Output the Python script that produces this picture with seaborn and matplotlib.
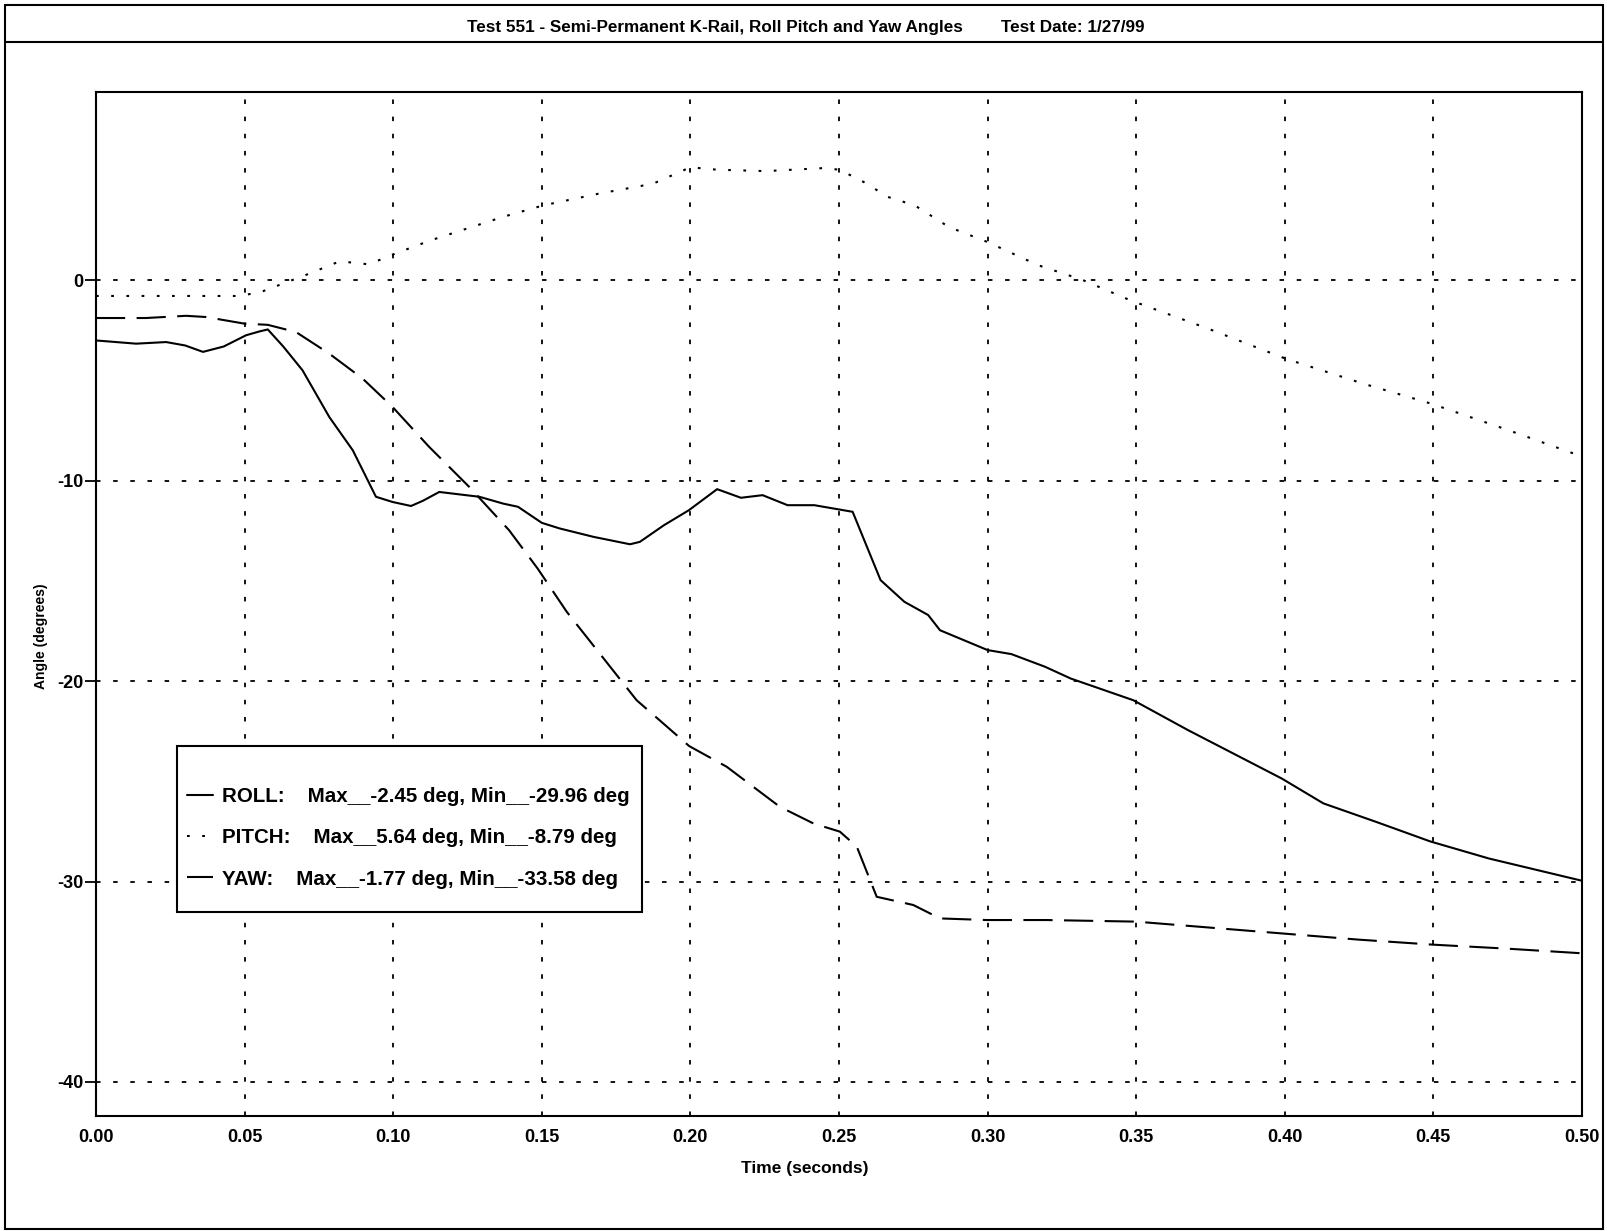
import pandas as pd
import seaborn as sns
import matplotlib.pyplot as plt
from matplotlib.lines import Line2D
from matplotlib.patches import Rectangle

# values
roll_t = [0.000, 0.0135, 0.0236, 0.030, 0.036, 0.043, 0.0505, 0.055, 0.0578, 0.063,
          0.0695, 0.0785, 0.0864, 0.0942, 0.0998, 0.106, 0.110, 0.1155, 0.129, 0.137,
          0.142, 0.150, 0.156, 0.1674, 0.1797, 0.183, 0.1911, 0.1995, 0.209, 0.217,
          0.2243, 0.2327, 0.2417, 0.2546, 0.264, 0.272, 0.280, 0.284, 0.300, 0.308,
          0.3193, 0.328, 0.349, 0.3674, 0.399, 0.413, 0.4307, 0.449, 0.4687, 0.500]
roll_deg = [-3.00, -3.16, -3.08, -3.25, -3.57, -3.30, -2.74, -2.55, -2.45, -3.30,
            -4.49, -6.82, -8.48, -10.80, -11.06, -11.26, -11.00, -10.56, -10.80, -11.14,
            -11.30, -12.10, -12.38, -12.80, -13.17, -13.05, -12.22, -11.47, -10.42, -10.85,
            -10.72, -11.22, -11.22, -11.55, -14.96, -16.04, -16.70, -17.46, -18.45, -18.65,
            -19.28, -19.87, -20.95, -22.44, -24.86, -26.10, -27.02, -28.00, -28.85, -29.96]

pitch_t = [0.000, 0.0483, 0.0555, 0.0644, 0.0724, 0.082, 0.0918, 0.1006, 0.1127, 0.1368,
           0.1505, 0.169, 0.1874, 0.200, 0.209, 0.2254, 0.2446, 0.2502, 0.2584, 0.2665,
           0.2755, 0.287, 0.300, 0.3171, 0.3318, 0.3481, 0.3742, 0.4003, 0.4263, 0.4492,
           0.4753, 0.500]
pitch_deg = [-0.78, -0.78, -0.58, -0.08, 0.37, 0.95, 0.80, 1.33, 2.00, 3.16,
             3.74, 4.32, 4.82, 5.64, 5.52, 5.45, 5.60, 5.52, 4.90, 4.16,
             3.74, 2.66, 1.91, 0.75, 0.03, -1.00, -2.41, -3.91, -5.15, -6.15,
             -7.48, -8.79]

yaw_t = [0.000, 0.0168, 0.0303, 0.037, 0.0499, 0.0578, 0.0673, 0.0785, 0.0897, 0.0998,
         0.1121, 0.1256, 0.139, 0.1486, 0.1584, 0.1819, 0.1996, 0.2122, 0.2301, 0.2414,
         0.2503, 0.256, 0.2627, 0.275, 0.284, 0.2997, 0.3198, 0.350, 0.375, 0.400,
         0.425, 0.450, 0.475, 0.500]
yaw_deg = [-1.88, -1.88, -1.77, -1.83, -2.16, -2.22, -2.58, -3.66, -4.90, -6.32,
           -8.31, -10.31, -12.47, -14.38, -16.54, -20.95, -23.24, -24.27, -26.27, -27.10,
           -27.51, -28.26, -30.76, -31.17, -31.84, -31.92, -31.92, -32.00, -32.30, -32.60,
           -32.90, -33.15, -33.35, -33.58]

series_names = ["ROLL", "PITCH", "YAW"]
legend_labels = [
    "ROLL:    Max__-2.45 deg, Min__-29.96 deg",
    "PITCH:    Max__5.64 deg, Min__-8.79 deg",
    "YAW:    Max__-1.77 deg, Min__-33.58 deg",
]
x_ticks = [0.00, 0.05, 0.10, 0.15, 0.20, 0.25, 0.30, 0.35, 0.40, 0.45, 0.50]
y_ticks = [-40, -30, -20, -10, 0]

df = pd.concat([
    pd.DataFrame({"t": roll_t, "deg": roll_deg, "series": "ROLL"}),
    pd.DataFrame({"t": pitch_t, "deg": pitch_deg, "series": "PITCH"}),
    pd.DataFrame({"t": yaw_t, "deg": yaw_deg, "series": "YAW"}),
], ignore_index=True)

sns.set_style("white")
plt.rcParams["font.family"] = ["Liberation Sans", "DejaVu Sans"]
plt.rcParams["font.weight"] = "bold"
plt.rcParams["text.color"] = "black"
plt.rcParams["xtick.color"] = "black"
plt.rcParams["ytick.color"] = "black"
plt.rcParams["axes.labelcolor"] = "black"

dash_map = {"ROLL": "", "PITCH": (1.3, 6), "YAW": (14, 5.5)}

fig = plt.figure(figsize=(16.08, 12.31), dpi=100)
ax = fig.add_axes([0.0597, 0.0934, 0.9241, 0.8319])

sns.lineplot(
    data=df, x="t", y="deg",
    hue="series", style="series",
    palette={s: "black" for s in series_names},
    dashes=dash_map,
    estimator=None, sort=False,
    linewidth=1.5, legend=False, ax=ax,
)

ax.set_xlim(0, 0.5)
ax.set_ylim(-41.7, 9.4)
ax.set_xticks(x_ticks)
ax.set_xticklabels([f"{v:.2f}" for v in x_ticks])
ax.set_yticks(y_ticks)
ax.set_yticklabels([str(v) for v in y_ticks])
ax.grid(True, color="black", linestyle=(0, (2.5, 7)), linewidth=1.3)

for sp in ax.spines.values():
    sp.set_color("black")
    sp.set_linewidth(1.5)

ax.tick_params(axis="x", length=0, pad=9, labelsize=13)
ax.tick_params(axis="y", direction="out", length=8, width=1.3, pad=1, labelsize=13, left=True)

ax.set_xlabel("Time (seconds)", fontsize=12.5, fontweight="bold")
ax.xaxis.set_label_coords(0.477, -0.051)
ax.xaxis.label.set_va("center")
ax.set_ylabel("Angle (degrees)", fontsize=10, fontweight="bold")
ax.yaxis.set_label_coords(-0.037, 0.469)
ax.yaxis.label.set_va("center")

# outer frame and title band
fig.add_artist(Rectangle((0.003, 0.002), 0.994, 0.994, transform=fig.transFigure,
                         fill=False, ec="black", lw=1.5))
fig.add_artist(Line2D([0.003, 0.997], [0.966, 0.966], transform=fig.transFigure,
                      color="black", lw=1.5))
fig.text(0.501, 0.978,
         "Test 551 - Semi-Permanent K-Rail, Roll Pitch and Yaw Angles        Test Date: 1/27/99",
         ha="center", va="center", fontsize=12.3, fontweight="bold")

# legend box (opaque, covers grid and curves)
fig.add_artist(Rectangle((0.110, 0.259), 0.289, 0.135, transform=fig.transFigure,
                         fill=True, fc="white", ec="black", lw=1.5, zorder=3))
handles = [
    Line2D([], [], color="black", lw=1.5, linestyle="-"),
    Line2D([], [], color="black", lw=1.5, dashes=dash_map["PITCH"]),
    Line2D([], [], color="black", lw=1.5, dashes=dash_map["YAW"]),
]
leg = fig.legend(
    handles, legend_labels,
    loc="upper left", bbox_to_anchor=(0.1163, 0.3605),
    frameon=False, fontsize=14.8,
    handlelength=1.25, handletextpad=0.45, labelspacing=1.08,
    borderpad=0, borderaxespad=0,
)
leg.set_zorder(5)

fig.savefig("out.png", dpi=100)
